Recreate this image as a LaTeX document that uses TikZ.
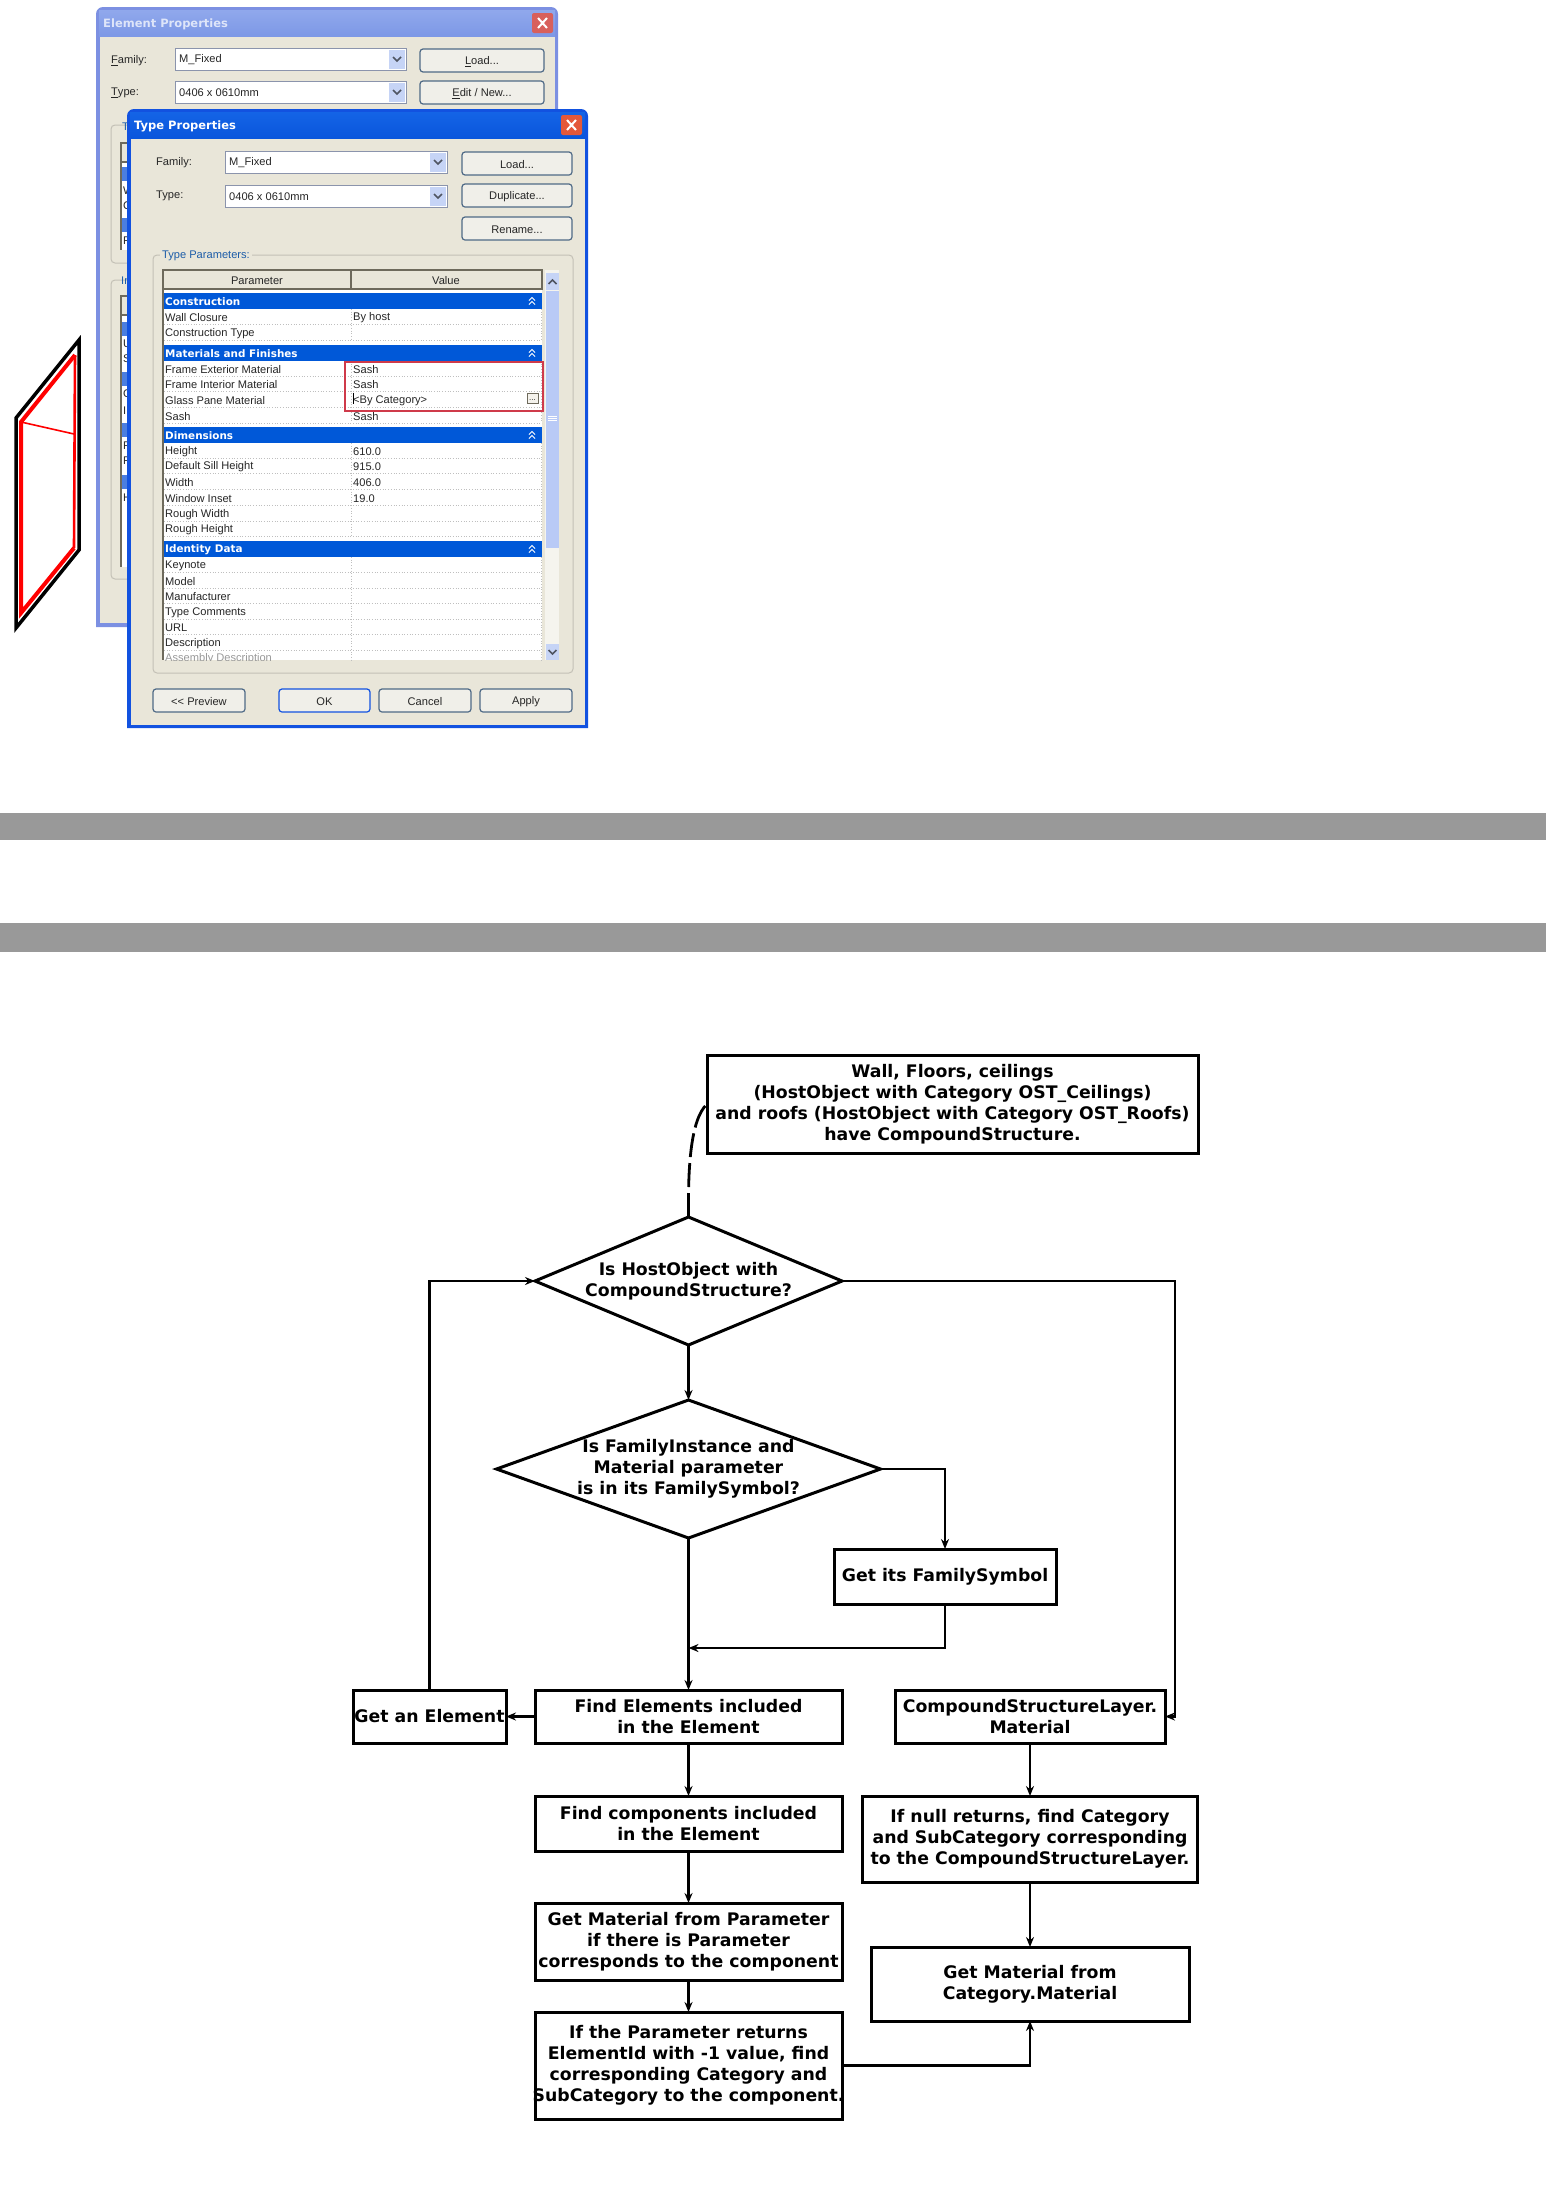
\documentclass[tikz,border=0pt]{standalone}
\usepackage{fontspec}
\setmainfont{DejaVu Sans}
\newfontfamily\dlgfont{Liberation Sans}
\usetikzlibrary{shapes.geometric,arrows.meta}
\definecolor{dlgbg}{HTML}{E9E6D9}
\definecolor{elemframe}{HTML}{7C90E2}
\definecolor{elemtitle}{HTML}{7D98E6}
\definecolor{elemtop}{HTML}{90A8EC}
\definecolor{elemclose}{HTML}{D8605C}
\definecolor{typeframe}{HTML}{1252E0}
\definecolor{typetitle}{HTML}{0A56DC}
\definecolor{typetop}{HTML}{1464E6}
\definecolor{typeclose}{HTML}{E4583A}
\definecolor{bandblue}{HTML}{0058D8}
\definecolor{arrowblue}{HTML}{C6D4F6}
\definecolor{thumbblue}{HTML}{B9CAF6}
\definecolor{tracklight}{HTML}{F5F4EE}
\definecolor{framedark}{HTML}{6E6A5C}
\definecolor{btnline}{HTML}{4F6A86}
\definecolor{grouptxt}{HTML}{1C5CA8}
\definecolor{markred}{HTML}{CF3A4A}
\definecolor{bandgray}{HTML}{999999}
\newcommand{\dlgdots}{...}
\tikzset{
  flowtext/.style={font=\fontsize{17.3}{20.9}\selectfont\bfseries, align=center},
  procbox/.style={flowtext, draw=black, line width=3pt, inner xsep=-6pt, inner ysep=0pt, outer sep=0pt},
  decbox/.style={procbox, diamond, aspect=2.78, inner xsep=-4pt, inner ysep=-4pt},
  flowarrow/.style={line width=2.8pt, -{Stealth[length=10pt,width=8pt]}},
  dashnote/.style={line width=2.8pt, dash pattern=on 24pt off 6pt},
  dlgtext/.style={font=\dlgfont\fontsize{11.1}{12}\selectfont, anchor=west, inner sep=0pt, text=black!85, yshift=-1pt},
  midtext/.style={dlgtext, anchor=center},
  titletext/.style={font=\fontsize{11.5}{12}\selectfont\bfseries, anchor=west, inner sep=0pt, yshift=-1.5pt},
  bandtext/.style={font=\fontsize{10.4}{11}\selectfont\bfseries, anchor=west, inner sep=0pt, text=white},
  comboframe/.style={draw=black!30!arrowblue, fill=white, line width=1pt},
  chevron/.style={draw=black!60!arrowblue, line width=1.5pt},
  groupline/.style={draw=black!16!dlgbg, line width=1pt, rounded corners=4pt},
  dotrow/.style={draw=black!25, line width=.7pt, dotted}
}
\begin{document}
\begin{tikzpicture}[x=1pt,y=-1pt]
  \useasboundingbox (0,0) rectangle (1546,2185);
  % window drawn in the corner
  \draw[black,line width=3.5pt,line join=miter] (79,340)--(16,418)--(16,628)--(79,550)--cycle;
  \draw[red,line width=4pt] (75,355)--(21,422)--(21,613)--(74,548);
  \draw[red,line width=2.6pt] (74,548)--(75,355);
  \draw[red,line width=1.6pt] (21,422)--(74,434);
  % element properties, behind
  \fill[elemframe] (96,627)--(96,100)[rounded corners=7pt]--(96,7)--(558,7)--(558,100)[sharp corners]--(558,627)--cycle;
  \fill[dlgbg] (99.5,36) rectangle (555,623);
  \shade[top color=elemtop,bottom color=elemtitle] (99,10) rectangle (555,36);
  \node[titletext,text=white!70!elemtop] (elemtitletxt) at (103,23) {Element Properties};
  % type properties frame comes later, group frames on the left first
  \draw[groupline] (130,125)--(111,125)--(111,263)--(130,263);
  \draw[groupline] (130,280)--(111,280)--(111,579)--(130,579);
  \foreach \ya/\yb in {143/250,296/567} {
    \fill[white] (121,\ya) rectangle (130,\yb);
    \fill[dlgbg] (121,\ya) rectangle (130,\ya+19);
    \draw[framedark,line width=1.2pt] (130,\ya)--(121,\ya)--(121,\yb);
    \draw[framedark,line width=1.2pt] (121,\ya+19)--(130,\ya+19);
  }
  \foreach \ya in {167,218,322,372,423,475} {
    \fill[elemtitle!60!bandblue] (122,\ya) rectangle (130,\ya+14);
  }
  \foreach \nm/\yc/\lab in {ea/190/W,eb/205/C,ec/240/F,ed/343/U,ee/358/S,ef/393/G,eg/410/I,eh/445/F,ei/460/F,ej/497/H} {
    \node[dlgtext] (\nm) at (123,\yc) {\lab};
  }
  \node[dlgtext,text=grouptxt] (elemgroupa) at (122,126) {T};
  \node[dlgtext,text=grouptxt] (elemgroupb) at (121,280) {In};
  \node[dlgtext] (elemfamily) at (111,60) {\underline{F}amily:};
  \node[dlgtext] (elemtype) at (111,92) {\underline{T}ype:};
  % type properties
  \fill[typeframe] (127,728)--(127,200)[rounded corners=7pt]--(127,109)--(588,109)--(588,200)[sharp corners]--(588,728)--cycle;
  \fill[dlgbg] (130.5,138) rectangle (584.5,725);
  \shade[top color=typetop,bottom color=typetitle] (130,112) rectangle (585,138);
  \node[titletext,text=white] (typetitletxt) at (134,125) {Type Properties};
  \node[dlgtext] (typefamily) at (156,162) {Family:};
  \node[dlgtext] (typetype) at (156,195) {Type:};
  % close buttons
  \foreach \xa/\ya/\col in {532/13/elemclose,561/115/typeclose} {
    \fill[\col,rounded corners=2pt] (\xa,\ya) rectangle (\xa+21,\ya+20);
    \draw[white,line width=2pt] (\xa+6,\ya+5)--(\xa+15,\ya+15) (\xa+15,\ya+5)--(\xa+6,\ya+15);
  }
  % combo boxes
  \foreach \nm/\xa/\xb/\ya/\lab in {efam/175/406/48/M\_Fixed,etyp/175/406/81/0406 x 0610mm,tfam/225/447/151/M\_Fixed,ttyp/225/447/185/0406 x 0610mm} {
    \draw[comboframe] (\xa,\ya) rectangle (\xb,\ya+22);
    \fill[arrowblue] (\xb-17,\ya+1.5) rectangle (\xb-1,\ya+20.5);
    \draw[chevron] (\xb-13,\ya+9)--(\xb-9,\ya+13)--(\xb-5,\ya+9);
    \node[dlgtext] (\nm) at (\xa+4,\ya+11) {\lab};
  }
  % buttons
  \foreach \nm/\xa/\xb/\ya/\lab/\col in {
      eload/420/544/49/\underline{L}oad\dlgdots/btnline,
      eedit/420/544/81/{\underline{E}dit / New\dlgdots}/btnline,
      tload/462/572/152/Load\dlgdots/btnline,
      tdupl/462/572/184/Duplicate\dlgdots/btnline,
      trena/462/572/217/Rename\dlgdots/btnline,
      tprev/153/245/689/<{}< Preview/btnline,
      tokay/279/370/689/OK/typeframe,
      tcanc/379/471/689/Cancel/btnline,
      tappl/480/572/689/Apply/btnline} {
    \draw[\col,fill=black!2!tracklight,line width=1.2pt,rounded corners=3pt] (\xa,\ya) rectangle (\xb,\ya+23);
    \node[midtext] (\nm) at ({(\xa+\xb)/2},\ya+11.5) {\lab};
  }
  % type parameters
  \draw[groupline] (153,255) rectangle (573,673);
  \node[dlgtext,text=grouptxt,fill=dlgbg,inner xsep=2pt] (typeparams) at (160,255) {Type Parameters:};
  \fill[white] (163,290) rectangle (542,660);
  \draw[framedark,line width=1.4pt] (163,270) rectangle (351,289) (351,270) rectangle (542,289);
  \draw[framedark,line width=1.4pt] (163,289)--(163,660);
  \node[midtext] (colparam) at (257,280) {Parameter};
  \node[midtext] (colvalue) at (446,280) {Value};
  % group rows
  \foreach \nm/\ya/\lab in {constr/293/Construction,mats/345/Materials and Finishes,dims/427/Dimensions,ident/541/Identity Data} {
    \fill[bandblue] (164,\ya) rectangle (542,\ya+16.3);
    \node[bandtext] (\nm) at (165,\ya+8.2) {\lab};
    \draw[white,line width=1pt] (529,\ya+7.5)--(532,\ya+4.5)--(535,\ya+7.5) (529,\ya+11.5)--(532,\ya+8.5)--(535,\ya+11.5);
  }
  % parameter rows
  \foreach \ya/\yb in {309/341,361/423,443/537,557/660} {
    \draw[dotrow] (351,\ya)--(351,\yb);
    \draw[dotrow] (541,\ya)--(541,\yb);
  }
  \begin{scope}
    \clip (163,290) rectangle (542,660);
    \foreach \yc/\lab [count=\n] in {317/Wall Closure,333/Construction Type,368.5/Frame Exterior Material,384/Frame Interior Material,399.5/Glass Pane Material,415.5/Sash,450.5/Height,466/Default Sill Height,482/Width,498/Window Inset,513.5/Rough Width,529/Rough Height,565/Keynote,580.5/Model,596/Manufacturer,611.5/Type Comments,627/URL,642.5/Description} {
      \node[dlgtext] (par\n) at (165,\yc) {\lab};
      \draw[dotrow] (164,\yc+7.8)--(542,\yc+7.8);
    }
    \node[dlgtext,text=black!40] (parlast) at (165,658) {Assembly Description};
  \end{scope}
  \foreach \yc/\lab [count=\n] in {317/By host,368.5/Sash,384/Sash,399.5/<By Category>,415.5/Sash,450.5/610.0,466/915.0,482/406.0,498/19.0} {
    \node[dlgtext] (val\n) at (353,\yc) {\lab};
  }
  \draw[black,line width=.8pt] (353,392.5)--(353,404);
  \draw[framedark,fill=dlgbg!50!white,line width=.6pt] (527,393) rectangle (538,403);
  \node[midtext,font=\dlgfont\fontsize{8}{9}\selectfont] (valdots) at (532.5,399) {\dlgdots};
  \draw[markred,line width=1.2pt] (345,362) rectangle (543,411);
  % scroll bar
  \fill[tracklight] (545,270) rectangle (559,660);
  \fill[arrowblue] (546,273) rectangle (559,290);
  \fill[thumbblue] (546,291) rectangle (559,548);
  \fill[arrowblue] (546,644) rectangle (559,660);
  \draw[chevron] (548.5,284)--(552.5,280)--(556.5,284);
  \draw[chevron] (548.5,650)--(552.5,654)--(556.5,650);
  \foreach \yc in {416,418,420} { \draw[white,line width=.8pt] (548,\yc)--(557,\yc); }
  % gray bars
  \fill[bandgray] (0,813) rectangle (1546,840);
  \fill[bandgray] (0,923) rectangle (1546,952);
  % flow chart
  \node[procbox,minimum width=491,minimum height=98] (wall) at (952.5,1104) {Wall, Floors, ceilings\\(HostObject with Category OST\_Ceilings)\\and roofs (HostObject with Category OST\_Roofs)\\have CompoundStructure.};
  \node[decbox,aspect=2.4,minimum width=307,minimum height=128] (cond1) at (688.5,1281) {Is HostObject with\\CompoundStructure?};
  \node[decbox,minimum width=384,minimum height=138] (cond2) at (688.5,1469) {Is FamilyInstance and\\Material parameter\\is in its FamilySymbol?};
  \node[procbox,minimum width=222,minimum height=55] (famsym) at (945,1576.5) {Get its FamilySymbol};
  \node[procbox,minimum width=153,minimum height=53] (getelem) at (429.5,1716.5) {Get an Element};
  \node[procbox,minimum width=307,minimum height=53] (findelem) at (688.5,1716.5) {Find Elements included\\in the Element};
  \node[procbox,minimum width=270,minimum height=53] (cslayer) at (1030,1716.5) {CompoundStructureLayer.\\Material};
  \node[procbox,minimum width=307,minimum height=55] (findcomp) at (688.5,1823.5) {Find components included\\in the Element};
  \node[procbox,minimum width=307,minimum height=77] (getparam) at (688.5,1941.5) {Get Material from Parameter\\if there is Parameter\\corresponds to the component};
  \node[procbox,minimum width=307,minimum height=107] (ifparam) at (688.5,2065.5) {If the Parameter returns\\ElementId with -1 value, find\\corresponding Category and\\SubCategory to the component.};
  \node[procbox,minimum width=335,minimum height=86] (ifnull) at (1030,1839) {If null returns, find Category\\and SubCategory corresponding\\to the CompoundStructureLayer.};
  \node[procbox,minimum width=318,minimum height=74] (getcat) at (1030,1984) {Get Material from\\Category.Material};
  \coordinate (junc) at (688.5,1648);
  \coordinate (rightbend) at (1175,1281);
  % connectors
  \draw[dashnote] (cond1.north) .. controls (688,1170) and (690,1120) .. (wall.west);
  \draw[flowarrow] (cond1.south)--(cond2.north);
  \draw[flowarrow] (cond2.south)--(findelem.north);
  \draw[flowarrow] (cond2.east)-|(famsym.north);
  \draw[flowarrow] (famsym.south)|-(junc);
  \draw[flowarrow] (findelem.west)--(getelem.east);
  \draw[flowarrow] (getelem.north)|-(cond1.west);
  \draw[flowarrow] (cond1.east)--(rightbend)|-(cslayer.east);
  \draw[flowarrow] (findelem.south)--(findcomp.north);
  \draw[flowarrow] (findcomp.south)--(getparam.north);
  \draw[flowarrow] (getparam.south)--(ifparam.north);
  \draw[flowarrow] (cslayer.south)--(ifnull.north);
  \draw[flowarrow] (ifnull.south)--(getcat.north);
  \draw[flowarrow] (ifparam.east)-|(getcat.south);
\end{tikzpicture}
\end{document}
